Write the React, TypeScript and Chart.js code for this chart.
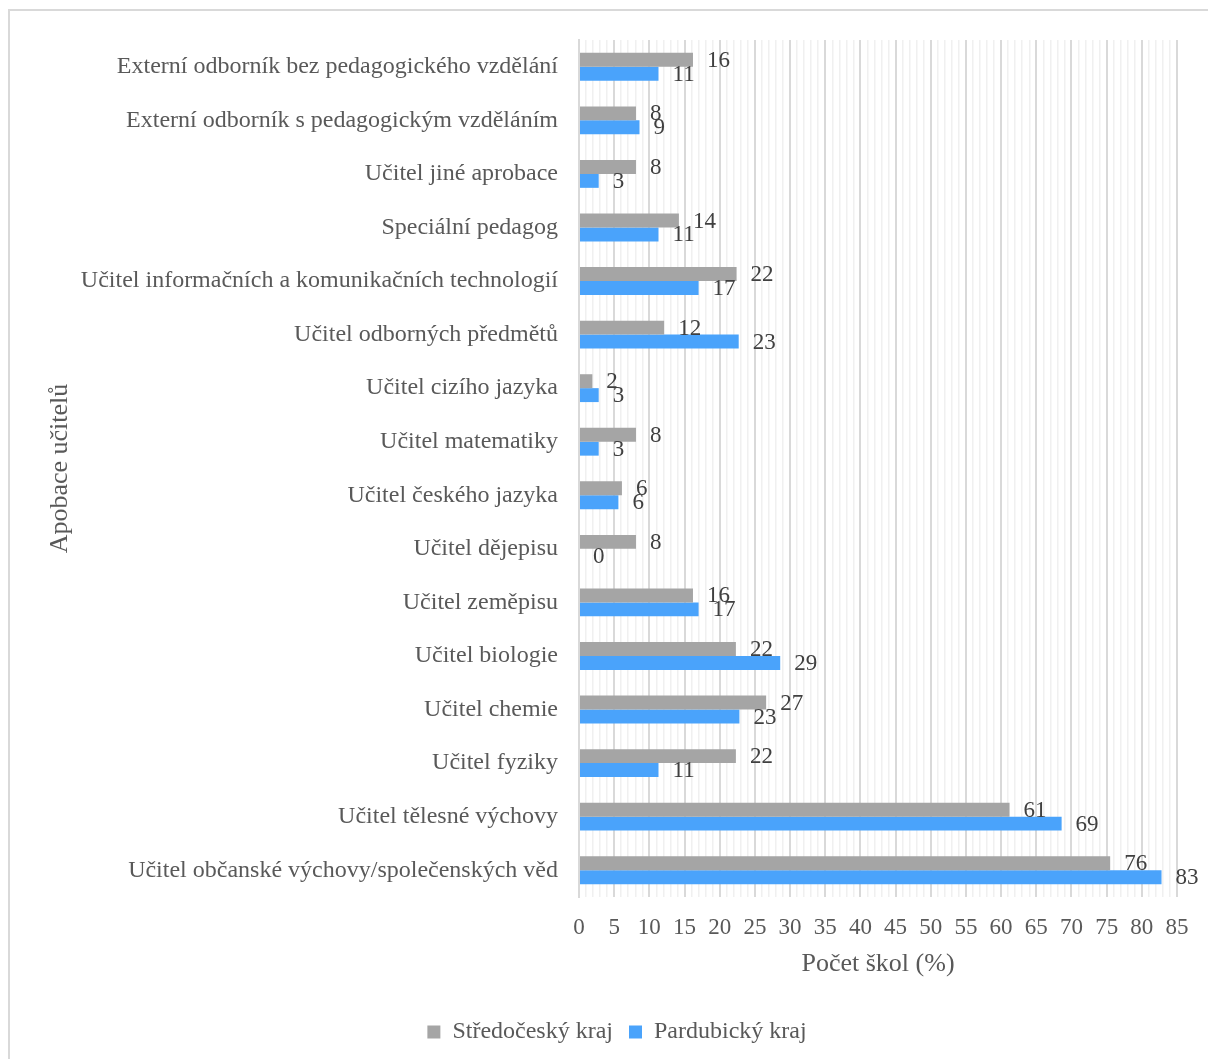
import React, { useEffect, useRef } from "react";
import { Chart, registerables } from "chart.js";

Chart.register(...registerables);

const categories = [
  "Externí odborník bez pedagogického vzdělání",
  "Externí odborník s pedagogickým vzděláním",
  "Učitel jiné aprobace",
  "Speciální pedagog",
  "Učitel informačních a komunikačních technologií",
  "Učitel odborných předmětů",
  "Učitel cizího jazyka",
  "Učitel matematiky",
  "Učitel českého jazyka",
  "Učitel dějepisu",
  "Učitel zeměpisu",
  "Učitel biologie",
  "Učitel chemie",
  "Učitel fyziky",
  "Učitel tělesné výchovy",
  "Učitel občanské výchovy/společenských věd",
];

const stredocesky = [16.2, 8.1, 8.1, 14.2, 22.4, 12.1, 1.9, 8.1, 6.1, 8.1, 16.2, 22.3, 26.6, 22.3, 61.2, 75.5];
const pardubicky = [11.3, 8.6, 2.8, 11.3, 17.0, 22.7, 2.8, 2.8, 5.6, 0, 17.0, 28.6, 22.8, 11.3, 68.6, 82.8];

const stredoceskyLabels = ["16", "8", "8", "14", "22", "12", "2", "8", "6", "8", "16", "22", "27", "22", "61", "76"];
const pardubickyLabels = ["11", "9", "3", "11", "17", "23", "3", "3", "6", "0", "17", "29", "23", "11", "69", "83"];

const seriesNames = ["Středočeský kraj", "Pardubický kraj"];
const xMin = 0;
const xMax = 85;
const xMajorStep = 5;

const FONT = "'Liberation Serif', 'Times New Roman', serif";
const TEXT = "#595959";

const valueLabelPlugin = {
  id: "valueLabels",
  afterDatasetsDraw(chart: any) {
    const ctx = chart.ctx;
    const labelSets = [stredoceskyLabels, pardubickyLabels];
    ctx.save();
    ctx.font = `23px ${FONT}`;
    ctx.fillStyle = "#404040";
    ctx.textAlign = "left";
    ctx.textBaseline = "middle";
    chart.data.datasets.forEach((_: any, di: number) => {
      const meta = chart.getDatasetMeta(di);
      meta.data.forEach((el: any, i: number) => {
        ctx.fillText(labelSets[di][i], el.x + 14, el.y + 1);
      });
    });
    ctx.restore();
  },
};

export default function App() {
  const ref = useRef<HTMLCanvasElement>(null);
  useEffect(() => {
    if (!ref.current) return;
    const chart = new Chart(ref.current, {
      type: "bar",
      data: {
        labels: categories,
        datasets: [
          {
            label: seriesNames[0],
            data: stredocesky,
            backgroundColor: "#a5a5a5",
            barPercentage: 1,
            categoryPercentage: 0.52,
          },
          {
            label: seriesNames[1],
            data: pardubicky,
            backgroundColor: "#4aa3fb",
            barPercentage: 1,
            categoryPercentage: 0.52,
          },
        ],
      },
      options: {
        indexAxis: "y",
        animation: false,
        responsive: false,
        maintainAspectRatio: false,
        layout: { padding: { top: 29, right: 31, left: 47, bottom: 17 } },
        plugins: {
          tooltip: { enabled: false },
          legend: {
            position: "bottom",
            labels: {
              font: { family: FONT, size: 24 },
              color: TEXT,
              boxWidth: 13,
              boxHeight: 13,
              padding: 16,
            },
          },
        },
        scales: {
          x: {
            type: "linear",
            min: xMin,
            max: xMax,
            afterFit(scale: any) {
              scale.height = 107;
              scale.paddingLeft = 0;
              scale.paddingRight = 0;
            },
            ticks: {
              stepSize: 1,
              autoSkip: false,
              maxRotation: 0,
              padding: 17,
              color: TEXT,
              font: { family: FONT, size: 23 },
              callback: (v: any) => (Number(v) % xMajorStep === 0 ? String(v) : ""),
            },
            grid: {
              drawTicks: false,
              color: (c: any) => (c.tick && c.tick.value % xMajorStep === 0 ? "#d9d9d9" : "#f0f0f0"),
              lineWidth: (c: any) => (c.tick && c.tick.value % xMajorStep === 0 ? 2 : 1.5),
            },
            border: { display: false },
            title: {
              display: true,
              text: "Počet škol (%)",
              color: TEXT,
              font: { family: FONT, size: 26 },
              padding: { top: 0, bottom: 24 },
            },
          },
          y: {
            afterFit(scale: any) {
              scale.width = 522;
              scale.paddingTop = 0;
              scale.paddingBottom = 0;
            },
            ticks: {
              color: TEXT,
              padding: 21,
              font: { family: FONT, size: 24 },
            },
            grid: { display: false, drawTicks: false },
            border: { display: true, color: "#d9d9d9", width: 2 },
            title: {
              display: true,
              text: "Apobace učitelů",
              color: TEXT,
              font: { family: FONT, size: 26 },
              padding: { top: -12, bottom: 0 },
            },
          },
        },
      },
      plugins: [valueLabelPlugin],
    } as any);
    return () => chart.destroy();
  }, []);

  return (
    <div
      style={{
        position: "fixed",
        left: 8,
        top: 9,
        width: 1202,
        height: 1062,
        borderLeft: "2px solid #d9d9d9",
        borderTop: "2px solid #d9d9d9",
        background: "#fff",
        boxSizing: "border-box",
      }}
    >
      <canvas ref={ref} width={1198} height={1060} style={{ display: "block", width: 1198, height: 1060 }} />
    </div>
  );
}
